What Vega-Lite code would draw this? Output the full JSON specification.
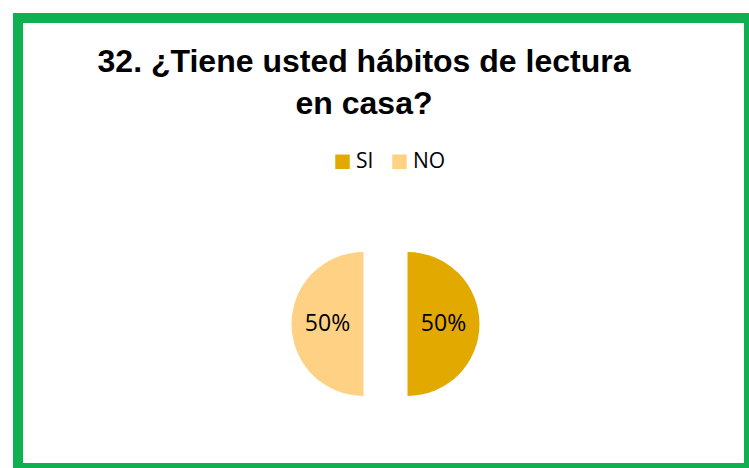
{
  "$schema": "https://vega.github.io/schema/vega-lite/v6.json",
  "width": 731,
  "height": 450,
  "autosize": "none",
  "padding": {"left": 18, "top": 18, "right": 0, "bottom": 0},
  "background": "white",
  "view": {"stroke": "#0FB050", "strokeWidth": 10, "fill": "white"},
  "title": {
    "text": ["32. ¿Tiene usted hábitos de lectura", "en casa?"],
    "font": "Liberation Sans",
    "fontSize": 32,
    "fontWeight": "bold",
    "color": "#000000",
    "anchor": "middle",
    "lineHeight": 42,
    "dx": -19.5,
    "offset": -103
  },
  "data": {
    "values": [
      {"respuesta": "SI", "porcentaje": 0.5},
      {"respuesta": "NO", "porcentaje": 0.5}
    ]
  },
  "encoding": {
    "theta": {"field": "porcentaje", "type": "quantitative", "stack": true},
    "order": {"field": "respuesta", "sort": "descending"},
    "color": {
      "field": "respuesta",
      "type": "nominal",
      "scale": {"domain": ["SI", "NO"], "range": ["#E2AA00", "#FFD185"]},
      "legend": {
        "orient": "none",
        "legendX": 314,
        "legendY": 133,
        "direction": "horizontal",
        "title": null,
        "symbolType": "square",
        "symbolSize": 210,
        "symbolStrokeWidth": 0,
        "labelFont": "Open Sans",
        "labelFontSize": 21,
        "labelColor": "#000000",
        "labelOffset": 3,
        "columnPadding": 15,
        "padding": 0
      }
    }
  },
  "layer": [
    {
      "mark": {
        "type": "arc",
        "outerRadius": 72,
        "xOffset": {"expr": "datum.respuesta === 'SI' ? 24 : -20"},
        "yOffset": 81
      }
    },
    {
      "mark": {
        "type": "text",
        "radius": 36,
        "font": "Open Sans",
        "fontSize": 23,
        "color": "#000000",
        "xOffset": {"expr": "datum.respuesta === 'SI' ? 24 : -20"},
        "yOffset": 81
      },
      "encoding": {
        "text": {"field": "porcentaje", "type": "quantitative", "format": ".0%"},
        "color": {"value": "#000000"}
      }
    }
  ]
}
